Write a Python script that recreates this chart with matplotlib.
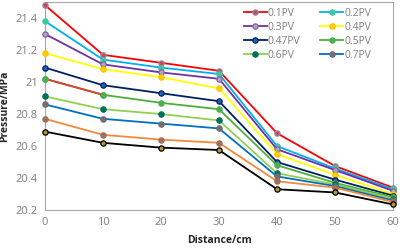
import matplotlib.pyplot as plt
import numpy as np

# distance along core (cm)
distance = [0, 10, 20, 30, 40, 50, 60]

# pressure (MPa) per injected pore volume
p_01 = [21.48, 21.17, 21.12, 21.07, 20.68, 20.475, 20.34]
p_02 = [21.38, 21.14, 21.09, 21.05, 20.60, 20.46, 20.33]
p_03 = [21.30, 21.11, 21.06, 21.02, 20.58, 20.45, 20.32]
p_04 = [21.18, 21.08, 21.03, 20.96, 20.55, 20.42, 20.30]
p_047 = [21.09, 20.98, 20.93, 20.88, 20.50, 20.39, 20.29]
p_05 = [21.02, 20.92, 20.87, 20.83, 20.48, 20.37, 20.28]
p_06 = [20.91, 20.83, 20.80, 20.76, 20.43, 20.36, 20.27]
p_07 = [20.86, 20.77, 20.74, 20.71, 20.41, 20.35, 20.26]
p_extra1 = [20.77, 20.67, 20.64, 20.62, 20.38, 20.34, 20.25]
p_extra2 = [20.69, 20.62, 20.59, 20.575, 20.33, 20.31, 20.235]

labels = ['0.1PV', '0.2PV', '0.3PV', '0.4PV', '0.47PV', '0.5PV', '0.6PV', '0.7PV']

# (data, line colour, marker face, marker edge, label)
series = [
    (p_01, '#FF0000', '#D9415E', '#7F8FA6', labels[0]),
    (p_02, '#00B0F0', '#3CC8A0', '#3CC8A0', labels[1]),
    (p_03, '#7030A0', '#B4A0C8', '#8064A2', labels[2]),
    (p_04, '#FFFF00', '#FFD000', '#FFC000', labels[3]),
    (p_047, '#002060', '#1F5FBF', '#002060', labels[4]),
    (p_05, '#4DAF3A', '#4CAF50', '#4CAF50', labels[5]),
    (p_06, '#92D050', '#00705A', '#00705A', labels[6]),
    (p_07, '#0070C0', '#8B6A50', '#5A6E8C', labels[7]),
    (p_extra1, '#F4883C', '#A0705A', '#A0705A', None),
    (p_extra2, '#000000', '#B8963C', '#000000', None),
]

plt.rcParams['font.family'] = ['Open Sans', 'DejaVu Sans']

fig = plt.figure(figsize=(4.0, 2.48), dpi=100)
ax = fig.add_axes([0.1125, 0.153, 0.87, 0.839])

handles = []
for data, lc, mfc, mec, lab in series:
    h, = ax.plot(distance, data, color=lc, lw=1.3, marker='o', ms=3.8,
                 mfc=mfc, mec=mec, mew=0.9, label=lab, zorder=3, clip_on=False)
    if lab is not None:
        handles.append(h)

# first segment of the 0.5PV curve appears red in the original
ax.plot(distance[:2], p_05[:2], color='#E03C31', lw=1.3, marker='o', ms=3.8,
        mfc='#4CAF50', mec='#4CAF50', mew=0.9, zorder=3, clip_on=False)

ax.set_xlim(0, 60)
ax.set_ylim(20.2, 21.5)
ax.set_xticks(distance)
ax.set_yticks(np.arange(20.2, 21.41, 0.2))
ax.set_yticklabels(['20.2', '20.4', '20.6', '20.8', '21', '21.2', '21.4'])
ax.tick_params(length=0, labelsize=8, labelcolor='#7F7F7F', pad=5)
for s in ax.spines.values():
    s.set_color('#A6A6A6')
    s.set_linewidth(0.8)

ax.set_xlabel('Distance/cm', fontsize=7.5, fontweight='bold', color='#262626', labelpad=5)
ax.set_ylabel('Pressure/MPa', fontsize=7.5, fontweight='bold', color='#262626', labelpad=4)

# row-major legend order like the original (two columns)
order = [0, 2, 4, 6, 1, 3, 5, 7]
leg = ax.legend(handles=[handles[i] for i in order], ncol=2, loc='upper left',
                bbox_to_anchor=(0.555, 1.0), frameon=False, fontsize=7.5,
                labelcolor='#7F7F7F', handlelength=2.2, handletextpad=0.1,
                columnspacing=1.9, labelspacing=0.3, borderaxespad=0.15)

fig.savefig('out.png', dpi=100)
